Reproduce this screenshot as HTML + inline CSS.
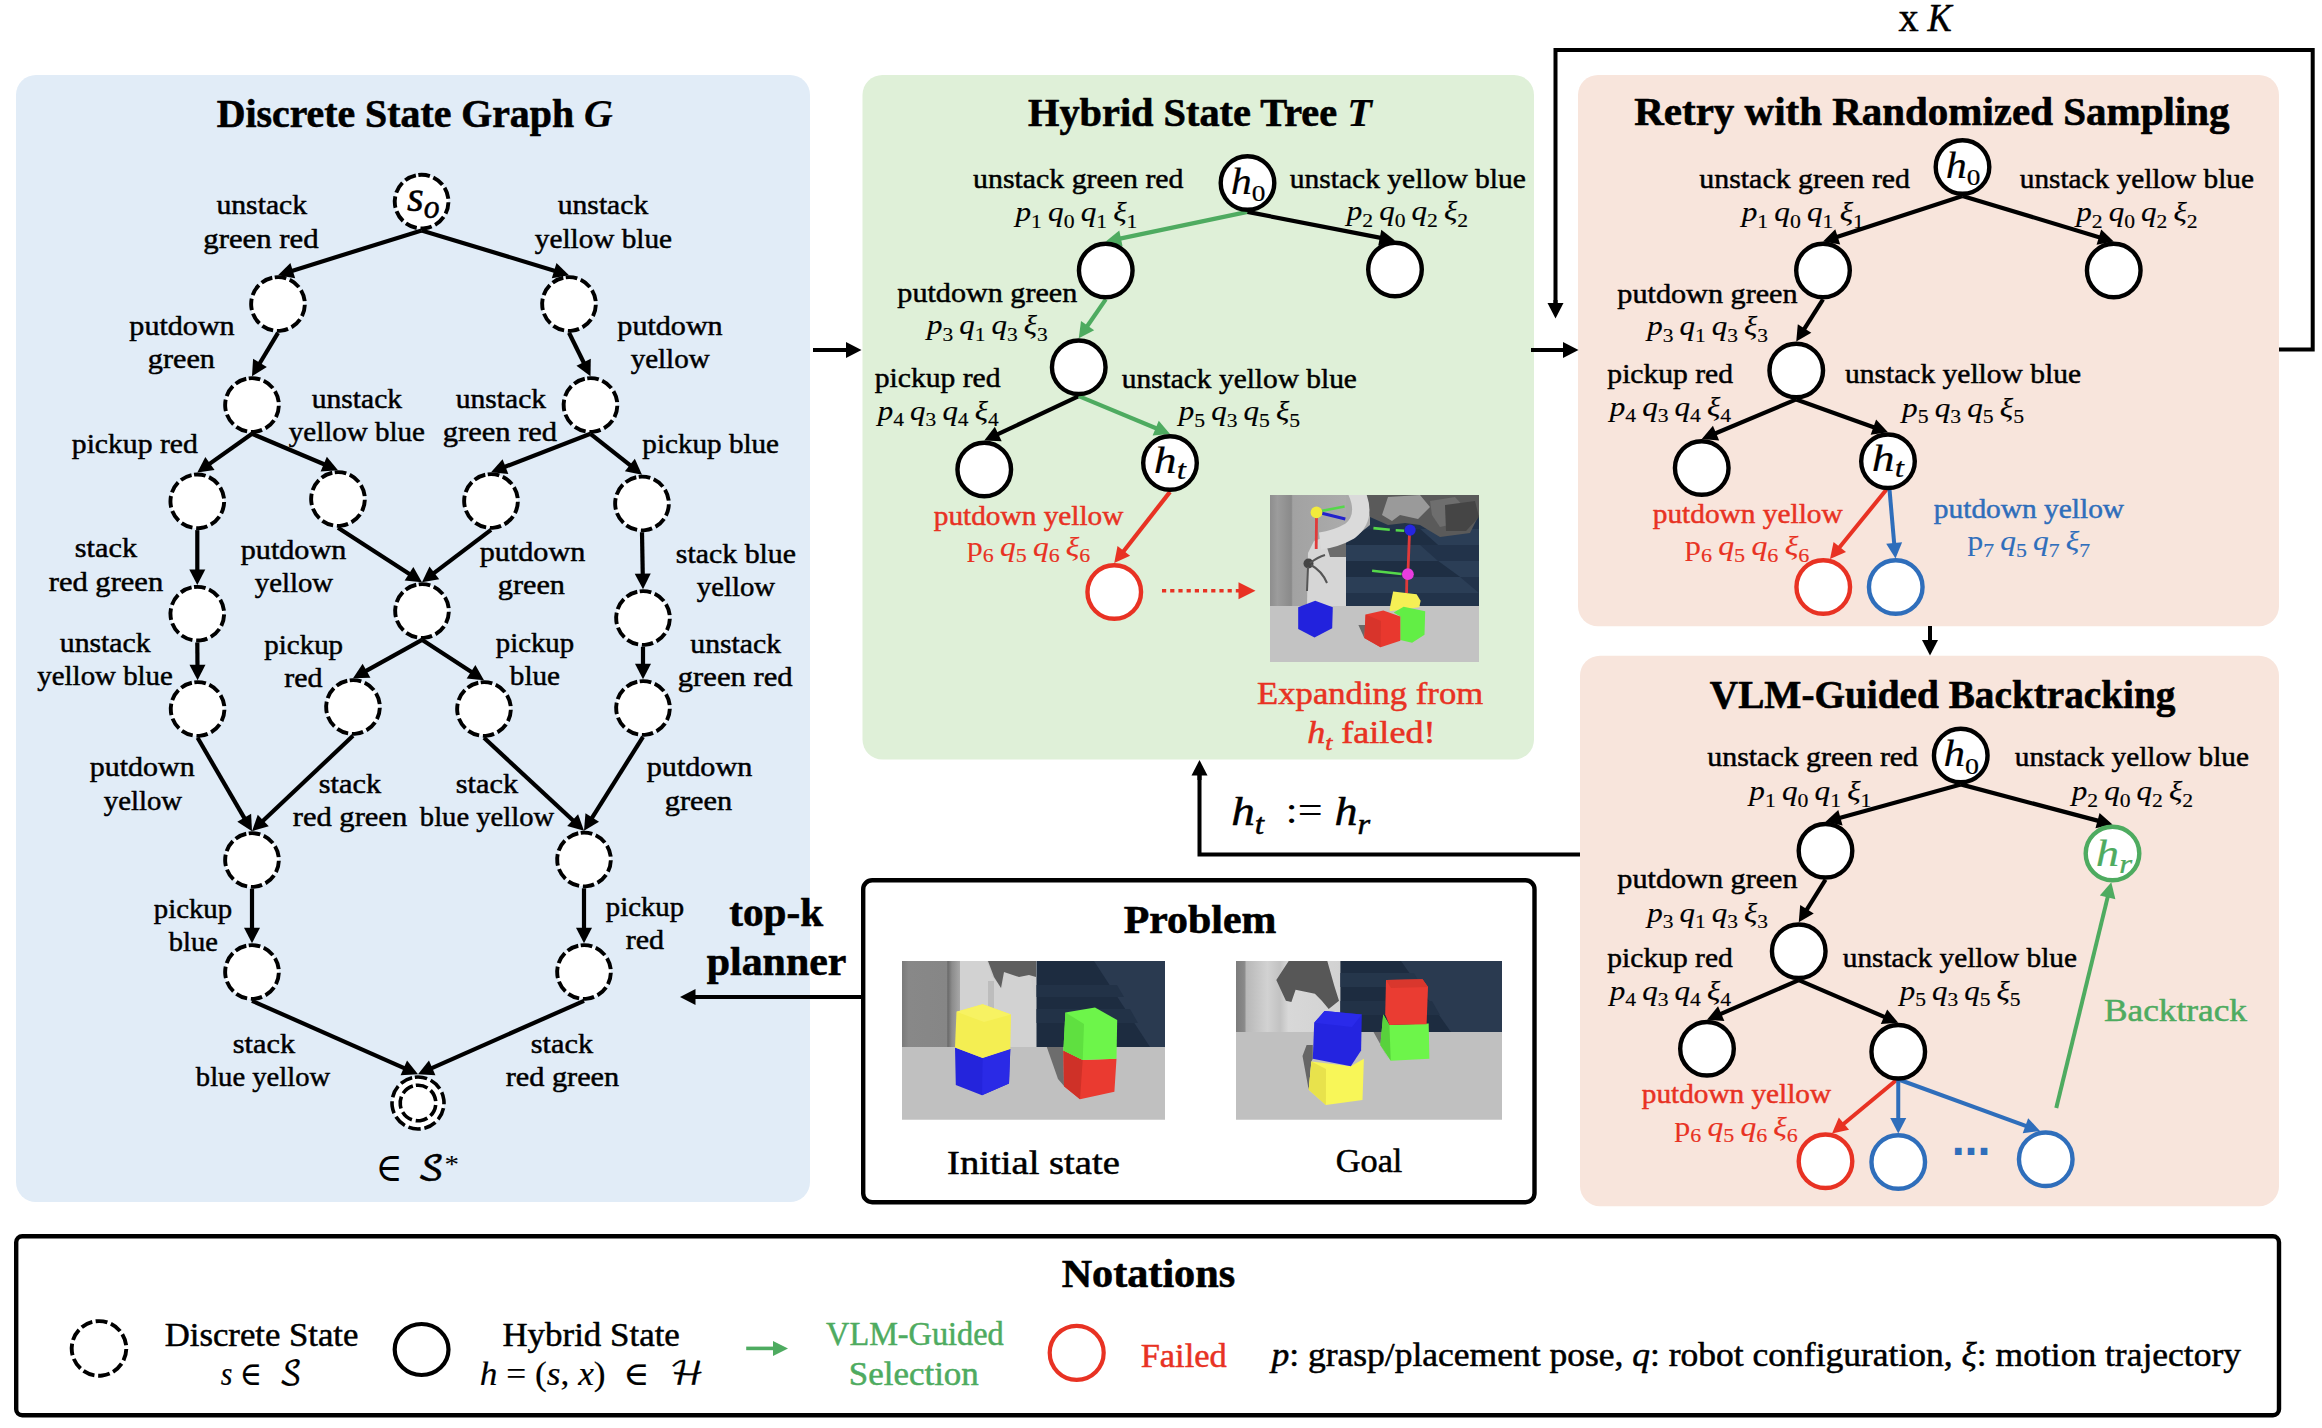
<!DOCTYPE html>
<html lang="en"><head><meta charset="utf-8"><title>Figure</title><style>
html,body{margin:0;padding:0;background:#fff;}
svg{display:block;}
text{font-family:"Liberation Serif","DejaVu Serif",serif;white-space:pre;stroke-width:0.5px;stroke-linejoin:round;}
.lb,.cap,.ex,.nm,.sym,.xk,.xki,.hh,.hb,.ss{stroke:#000;}
.lb{font-size:28px;}
.ml{font-size:28px;stroke:#000;stroke-width:0.15px;}
.hh{stroke-width:0.2px;}
.nm{stroke-width:0.2px;}
.tt{font-size:39.5px;font-weight:bold;stroke:#000;stroke-width:0.6px;}
.bi{font-style:italic;font-weight:bold;stroke-width:0.2px;}
.cap{font-size:33px;}
.ex{font-size:31px;}
.hh{font-size:37px;}
.hb{font-size:41px;}
.hbr{font-size:38px;}
.nm{font-size:33px;}
.xk{font-size:42px;}
.xki{font-size:41px;font-style:italic;}
.sym{font-size:33px;}
.sym2{font-size:40px;}
.star{font-size:26px;}
.mi{font-style:italic;}
.mr{font-style:normal;}
.mt{font-size:28px;}
.sb{font-size:19.5px;}
.sbh{font-size:24px;}
.sbi{font-size:27px;font-style:italic;}
.ss{font-size:45px;}
.sbo{font-size:33px;font-style:italic;}
.sbi2{font-size:22px;font-style:italic;}
.sbi3{font-size:29px;font-style:italic;}
.sp{font-size:22px;}
.dots{font-family:"Liberation Sans","DejaVu Sans",sans-serif;font-weight:bold;font-size:48px;stroke-width:0;}
.cal{font-family:"DejaVu Math TeX Gyre","DejaVu Sans","DejaVu Serif",serif;}
</style></head><body><svg width="2322" height="1428" viewBox="0 0 2322 1428"><defs>
<clipPath id="cpI"><rect width="263" height="158.7"/></clipPath>
<clipPath id="cpG"><rect width="266" height="158.7"/></clipPath>
<clipPath id="cpR"><rect width="209" height="167"/></clipPath>
<linearGradient id="gI" x1="0" x2="1" y1="0" y2="0">
<stop offset="0" stop-color="#7a7a7a"/><stop offset="0.05" stop-color="#888"/><stop offset="0.33" stop-color="#868686"/><stop offset="0.34" stop-color="#6a6a6a"/><stop offset="0.37" stop-color="#8c8c8c"/><stop offset="0.43" stop-color="#a8a8a8"/><stop offset="0.5" stop-color="#c6c6c6"/><stop offset="1" stop-color="#d0d0d0"/></linearGradient>
<linearGradient id="gG" x1="0" x2="1" y1="0" y2="0">
<stop offset="0" stop-color="#7c7c7c"/><stop offset="0.08" stop-color="#8a8a8a"/><stop offset="0.1" stop-color="#b8b8b8"/><stop offset="0.3" stop-color="#d2d2d2"/><stop offset="0.42" stop-color="#c2c2c2"/><stop offset="0.5" stop-color="#d8d8d8"/><stop offset="1" stop-color="#d2d2d2"/></linearGradient>
<linearGradient id="gR" x1="0" x2="1" y1="0" y2="0">
<stop offset="0" stop-color="#8e8e8e"/><stop offset="0.1" stop-color="#9c9c9c"/><stop offset="0.28" stop-color="#8a8a8a"/><stop offset="0.3" stop-color="#a2a2a2"/><stop offset="1" stop-color="#ababab"/></linearGradient>
</defs>
<rect x="16" y="75" width="794" height="1127" rx="20" fill="#e1ecf7"/>
<rect x="862.5" y="75" width="671.5" height="684.5" rx="20" fill="#dff0d8"/>
<rect x="1578" y="75" width="701" height="551.3" rx="20" fill="#f8e5dc"/>
<rect x="1580" y="655.7" width="699" height="550.5" rx="20" fill="#f8e5dc"/>
<rect x="863.2" y="880.2" width="671.3" height="322" rx="9" fill="#fff" stroke="#000" stroke-width="4.4"/>
<rect x="16.2" y="1236.3" width="2262.8" height="179" rx="6" fill="#fff" stroke="#000" stroke-width="4.4"/>
<line x1="813.00" y1="350.00" x2="847.00" y2="350.00" stroke="#000" stroke-width="4.00"/>
<polygon points="861.50,350.00 846.00,358.00 846.00,342.00" fill="#000"/>
<line x1="1531.00" y1="350.00" x2="1564.00" y2="350.00" stroke="#000" stroke-width="4.00"/>
<polygon points="1578.50,350.00 1563.00,358.00 1563.00,342.00" fill="#000"/>
<line x1="861.00" y1="997.00" x2="694.50" y2="997.00" stroke="#000" stroke-width="4.00"/>
<polygon points="680.00,997.00 695.50,989.00 695.50,1005.00" fill="#000"/>
<line x1="1930.00" y1="626.00" x2="1930.00" y2="641.00" stroke="#000" stroke-width="4.00"/>
<polygon points="1930.00,655.50 1922.00,640.00 1938.00,640.00" fill="#000"/>
<polyline points="2279,349.5 2312.7,349.5 2312.7,50 1555.5,50 1555.5,304" fill="none" stroke="#000" stroke-width="4.0" stroke-linejoin="miter"/>
<line x1="1555.50" y1="300.00" x2="1555.50" y2="304.00" stroke="#000" stroke-width="4.00"/>
<polygon points="1555.50,318.50 1547.50,303.00 1563.50,303.00" fill="#000"/>
<polyline points="1580,854.5 1199.5,854.5 1199.5,775" fill="none" stroke="#000" stroke-width="4.0" stroke-linejoin="miter"/>
<line x1="1199.50" y1="780.00" x2="1199.50" y2="774.50" stroke="#000" stroke-width="4.00"/>
<polygon points="1199.50,760.00 1207.50,775.50 1191.50,775.50" fill="#000"/>
<line x1="421.60" y1="230.40" x2="291.84" y2="270.88" stroke="#000" stroke-width="4.20"/>
<polygon points="278.00,275.20 290.41,262.95 295.18,278.22" fill="#000"/>
<line x1="421.60" y1="230.40" x2="555.13" y2="270.98" stroke="#000" stroke-width="4.20"/>
<polygon points="569.00,275.20 551.84,278.35 556.50,263.04" fill="#000"/>
<line x1="278.00" y1="332.80" x2="259.45" y2="363.76" stroke="#000" stroke-width="4.20"/>
<polygon points="252.00,376.20 253.10,358.79 266.83,367.01" fill="#000"/>
<line x1="569.00" y1="332.80" x2="584.06" y2="363.21" stroke="#000" stroke-width="4.20"/>
<polygon points="590.50,376.20 576.45,365.86 590.79,358.76" fill="#000"/>
<line x1="252.00" y1="433.80" x2="209.14" y2="464.13" stroke="#000" stroke-width="4.20"/>
<polygon points="197.30,472.50 205.33,457.02 214.57,470.08" fill="#000"/>
<line x1="252.00" y1="433.80" x2="324.65" y2="464.55" stroke="#000" stroke-width="4.20"/>
<polygon points="338.00,470.20 320.61,471.53 326.84,456.79" fill="#000"/>
<line x1="590.50" y1="433.80" x2="504.53" y2="466.98" stroke="#000" stroke-width="4.20"/>
<polygon points="491.00,472.20 502.58,459.16 508.34,474.08" fill="#000"/>
<line x1="590.50" y1="433.80" x2="630.65" y2="465.68" stroke="#000" stroke-width="4.20"/>
<polygon points="642.00,474.70 624.89,471.33 634.84,458.80" fill="#000"/>
<line x1="197.30" y1="530.10" x2="197.30" y2="570.40" stroke="#000" stroke-width="4.20"/>
<polygon points="197.30,584.90 189.30,569.40 205.30,569.40" fill="#000"/>
<line x1="338.00" y1="527.80" x2="409.83" y2="574.32" stroke="#000" stroke-width="4.20"/>
<polygon points="422.00,582.20 404.64,580.49 413.34,567.06" fill="#000"/>
<line x1="491.00" y1="529.80" x2="433.55" y2="573.43" stroke="#000" stroke-width="4.20"/>
<polygon points="422.00,582.20 429.51,566.45 439.18,579.20" fill="#000"/>
<line x1="642.00" y1="532.30" x2="642.75" y2="574.70" stroke="#000" stroke-width="4.20"/>
<polygon points="643.00,589.20 634.73,573.84 650.73,573.56" fill="#000"/>
<line x1="197.30" y1="642.50" x2="197.48" y2="665.70" stroke="#000" stroke-width="4.20"/>
<polygon points="197.60,680.20 189.48,664.76 205.48,664.64" fill="#000"/>
<line x1="422.00" y1="639.80" x2="365.67" y2="671.15" stroke="#000" stroke-width="4.20"/>
<polygon points="353.00,678.20 362.65,663.67 370.43,677.65" fill="#000"/>
<line x1="422.00" y1="639.80" x2="471.85" y2="672.28" stroke="#000" stroke-width="4.20"/>
<polygon points="484.00,680.20 466.65,678.44 475.38,665.04" fill="#000"/>
<line x1="643.00" y1="646.80" x2="643.00" y2="664.70" stroke="#000" stroke-width="4.20"/>
<polygon points="643.00,679.20 635.00,663.70 651.00,663.70" fill="#000"/>
<line x1="197.60" y1="737.80" x2="244.70" y2="818.67" stroke="#000" stroke-width="4.20"/>
<polygon points="252.00,831.20 237.29,821.83 251.11,813.78" fill="#000"/>
<line x1="353.00" y1="735.80" x2="262.54" y2="821.24" stroke="#000" stroke-width="4.20"/>
<polygon points="252.00,831.20 257.77,814.74 268.76,826.37" fill="#000"/>
<line x1="484.00" y1="737.80" x2="573.38" y2="820.83" stroke="#000" stroke-width="4.20"/>
<polygon points="584.00,830.70 567.20,826.01 578.09,814.29" fill="#000"/>
<line x1="643.00" y1="736.80" x2="591.71" y2="818.42" stroke="#000" stroke-width="4.20"/>
<polygon points="584.00,830.70 585.47,813.32 599.02,821.83" fill="#000"/>
<line x1="252.00" y1="888.80" x2="252.00" y2="928.70" stroke="#000" stroke-width="4.20"/>
<polygon points="252.00,943.20 244.00,927.70 260.00,927.70" fill="#000"/>
<line x1="584.00" y1="888.30" x2="584.00" y2="928.70" stroke="#000" stroke-width="4.20"/>
<polygon points="584.00,943.20 576.00,927.70 592.00,927.70" fill="#000"/>
<line x1="252.00" y1="1000.80" x2="404.74" y2="1068.34" stroke="#000" stroke-width="4.20"/>
<polygon points="418.00,1074.20 400.59,1075.25 407.06,1060.62" fill="#000"/>
<line x1="584.00" y1="1000.80" x2="431.26" y2="1068.34" stroke="#000" stroke-width="4.20"/>
<polygon points="418.00,1074.20 428.94,1060.62 435.41,1075.25" fill="#000"/>
<circle cx="421.60" cy="201.60" r="26.85" fill="#fff" stroke="#000" stroke-width="3.90" stroke-dasharray="11.656 3.681" transform="rotate(-97 421.60 201.60)"/>
<circle cx="278.00" cy="304.00" r="26.85" fill="#fff" stroke="#000" stroke-width="3.90" stroke-dasharray="11.656 3.681" transform="rotate(-97 278.00 304.00)"/>
<circle cx="569.00" cy="304.00" r="26.85" fill="#fff" stroke="#000" stroke-width="3.90" stroke-dasharray="11.656 3.681" transform="rotate(-97 569.00 304.00)"/>
<circle cx="252.00" cy="405.00" r="26.85" fill="#fff" stroke="#000" stroke-width="3.90" stroke-dasharray="11.656 3.681" transform="rotate(-97 252.00 405.00)"/>
<circle cx="590.50" cy="405.00" r="26.85" fill="#fff" stroke="#000" stroke-width="3.90" stroke-dasharray="11.656 3.681" transform="rotate(-97 590.50 405.00)"/>
<circle cx="197.30" cy="501.30" r="26.85" fill="#fff" stroke="#000" stroke-width="3.90" stroke-dasharray="11.656 3.681" transform="rotate(-97 197.30 501.30)"/>
<circle cx="338.00" cy="499.00" r="26.85" fill="#fff" stroke="#000" stroke-width="3.90" stroke-dasharray="11.656 3.681" transform="rotate(-97 338.00 499.00)"/>
<circle cx="491.00" cy="501.00" r="26.85" fill="#fff" stroke="#000" stroke-width="3.90" stroke-dasharray="11.656 3.681" transform="rotate(-97 491.00 501.00)"/>
<circle cx="642.00" cy="503.50" r="26.85" fill="#fff" stroke="#000" stroke-width="3.90" stroke-dasharray="11.656 3.681" transform="rotate(-97 642.00 503.50)"/>
<circle cx="197.30" cy="613.70" r="26.85" fill="#fff" stroke="#000" stroke-width="3.90" stroke-dasharray="11.656 3.681" transform="rotate(-97 197.30 613.70)"/>
<circle cx="422.00" cy="611.00" r="26.85" fill="#fff" stroke="#000" stroke-width="3.90" stroke-dasharray="11.656 3.681" transform="rotate(-97 422.00 611.00)"/>
<circle cx="643.00" cy="618.00" r="26.85" fill="#fff" stroke="#000" stroke-width="3.90" stroke-dasharray="11.656 3.681" transform="rotate(-97 643.00 618.00)"/>
<circle cx="197.60" cy="709.00" r="26.85" fill="#fff" stroke="#000" stroke-width="3.90" stroke-dasharray="11.656 3.681" transform="rotate(-97 197.60 709.00)"/>
<circle cx="353.00" cy="707.00" r="26.85" fill="#fff" stroke="#000" stroke-width="3.90" stroke-dasharray="11.656 3.681" transform="rotate(-97 353.00 707.00)"/>
<circle cx="484.00" cy="709.00" r="26.85" fill="#fff" stroke="#000" stroke-width="3.90" stroke-dasharray="11.656 3.681" transform="rotate(-97 484.00 709.00)"/>
<circle cx="643.00" cy="708.00" r="26.85" fill="#fff" stroke="#000" stroke-width="3.90" stroke-dasharray="11.656 3.681" transform="rotate(-97 643.00 708.00)"/>
<circle cx="252.00" cy="860.00" r="26.85" fill="#fff" stroke="#000" stroke-width="3.90" stroke-dasharray="11.656 3.681" transform="rotate(-97 252.00 860.00)"/>
<circle cx="584.00" cy="859.50" r="26.85" fill="#fff" stroke="#000" stroke-width="3.90" stroke-dasharray="11.656 3.681" transform="rotate(-97 584.00 859.50)"/>
<circle cx="252.00" cy="972.00" r="26.85" fill="#fff" stroke="#000" stroke-width="3.90" stroke-dasharray="11.656 3.681" transform="rotate(-97 252.00 972.00)"/>
<circle cx="584.00" cy="972.00" r="26.85" fill="#fff" stroke="#000" stroke-width="3.90" stroke-dasharray="11.656 3.681" transform="rotate(-97 584.00 972.00)"/>
<circle cx="418.00" cy="1103.00" r="26.00" fill="#fff" stroke="#000" stroke-width="3.60" stroke-dasharray="12.416 3.921" transform="rotate(-97 418.00 1103.00)"/>
<circle cx="418.00" cy="1103.00" r="17.80" fill="#fff" stroke="#000" stroke-width="3.60" stroke-dasharray="12.143 3.835" transform="rotate(-97 418.00 1103.00)"/>
<line x1="1247.50" y1="211.90" x2="1119.94" y2="238.63" stroke="#4eab60" stroke-width="4.20"/>
<polygon points="1105.75,241.60 1119.28,230.59 1122.56,246.25" fill="#4eab60"/>
<line x1="1247.50" y1="211.90" x2="1380.77" y2="237.83" stroke="#000" stroke-width="4.20"/>
<polygon points="1395.00,240.60 1378.26,245.49 1381.31,229.79" fill="#000"/>
<line x1="1105.75" y1="299.40" x2="1087.01" y2="326.43" stroke="#4eab60" stroke-width="4.20"/>
<polygon points="1078.75,338.35 1081.01,321.05 1094.16,330.17" fill="#4eab60"/>
<line x1="1078.75" y1="396.15" x2="997.37" y2="434.43" stroke="#000" stroke-width="4.20"/>
<polygon points="984.25,440.60 994.87,426.76 1001.68,441.24" fill="#000"/>
<line x1="1078.75" y1="396.15" x2="1156.61" y2="428.53" stroke="#4eab60" stroke-width="4.20"/>
<polygon points="1170.00,434.10 1152.62,435.53 1158.76,420.76" fill="#4eab60"/>
<line x1="1170.00" y1="491.90" x2="1123.19" y2="551.68" stroke="#e83223" stroke-width="4.20"/>
<polygon points="1114.25,563.10 1117.51,545.96 1130.10,555.83" fill="#e83223"/>
<circle cx="1247.50" cy="183.00" r="26.80" fill="#fff" stroke="#000" stroke-width="4.40"/>
<circle cx="1105.75" cy="270.50" r="26.80" fill="#fff" stroke="#000" stroke-width="4.40"/>
<circle cx="1395.00" cy="269.50" r="26.80" fill="#fff" stroke="#000" stroke-width="4.40"/>
<circle cx="1078.75" cy="367.25" r="26.80" fill="#fff" stroke="#000" stroke-width="4.40"/>
<circle cx="984.25" cy="469.50" r="26.80" fill="#fff" stroke="#000" stroke-width="4.40"/>
<circle cx="1170.00" cy="463.00" r="26.80" fill="#fff" stroke="#000" stroke-width="4.40"/>
<circle cx="1114.25" cy="592.00" r="26.80" fill="#fff" stroke="#e83223" stroke-width="4.40"/>
<line x1="1162.00" y1="590.80" x2="1239.50" y2="590.80" stroke="#e83223" stroke-width="3.60" stroke-dasharray="4.2 4.0"/>
<polygon points="1255.50,590.80 1238.50,599.30 1238.50,582.30" fill="#e83223"/>
<line x1="1962.50" y1="195.90" x2="1836.78" y2="237.09" stroke="#000" stroke-width="4.20"/>
<polygon points="1823.00,241.60 1835.24,229.17 1840.22,244.38" fill="#000"/>
<line x1="1962.50" y1="195.90" x2="2099.87" y2="237.41" stroke="#000" stroke-width="4.20"/>
<polygon points="2113.75,241.60 2096.60,244.77 2101.23,229.46" fill="#000"/>
<line x1="1823.00" y1="299.40" x2="1804.01" y2="329.35" stroke="#000" stroke-width="4.20"/>
<polygon points="1796.25,341.60 1797.79,324.23 1811.31,332.79" fill="#000"/>
<line x1="1796.25" y1="399.40" x2="1715.12" y2="433.48" stroke="#000" stroke-width="4.20"/>
<polygon points="1701.75,439.10 1712.94,425.72 1719.14,440.47" fill="#000"/>
<line x1="1796.25" y1="399.40" x2="1874.35" y2="427.45" stroke="#000" stroke-width="4.20"/>
<polygon points="1888.00,432.35 1870.71,434.64 1876.12,419.58" fill="#000"/>
<line x1="1886.50" y1="489.50" x2="1839.15" y2="547.75" stroke="#e83223" stroke-width="4.00"/>
<polygon points="1830.00,559.00 1833.57,541.93 1845.98,552.02" fill="#e83223"/>
<line x1="1889.50" y1="489.50" x2="1894.24" y2="544.05" stroke="#2f6ebb" stroke-width="4.00"/>
<polygon points="1895.50,558.50 1886.19,543.75 1902.13,542.37" fill="#2f6ebb"/>
<circle cx="1962.50" cy="167.00" r="26.80" fill="#fff" stroke="#000" stroke-width="4.40"/>
<circle cx="1823.00" cy="270.50" r="26.80" fill="#fff" stroke="#000" stroke-width="4.40"/>
<circle cx="2113.75" cy="270.50" r="26.80" fill="#fff" stroke="#000" stroke-width="4.40"/>
<circle cx="1796.25" cy="370.50" r="26.80" fill="#fff" stroke="#000" stroke-width="4.40"/>
<circle cx="1701.75" cy="468.00" r="26.80" fill="#fff" stroke="#000" stroke-width="4.40"/>
<circle cx="1888.00" cy="461.25" r="26.80" fill="#fff" stroke="#000" stroke-width="4.40"/>
<circle cx="1823.25" cy="587.00" r="26.80" fill="#fff" stroke="#e83223" stroke-width="4.40"/>
<circle cx="1895.75" cy="587.00" r="26.80" fill="#fff" stroke="#2f6ebb" stroke-width="4.40"/>
<line x1="1960.75" y1="784.40" x2="1839.47" y2="817.98" stroke="#000" stroke-width="4.20"/>
<polygon points="1825.50,821.85 1838.30,810.00 1842.57,825.42" fill="#000"/>
<line x1="1960.75" y1="784.40" x2="2098.48" y2="820.89" stroke="#000" stroke-width="4.20"/>
<polygon points="2112.50,824.60 2095.47,828.36 2099.57,812.90" fill="#000"/>
<line x1="1825.50" y1="879.65" x2="1806.45" y2="910.06" stroke="#000" stroke-width="4.20"/>
<polygon points="1798.75,922.35 1800.20,904.97 1813.76,913.46" fill="#000"/>
<line x1="1798.75" y1="980.15" x2="1720.31" y2="1014.09" stroke="#000" stroke-width="4.20"/>
<polygon points="1707.00,1019.85 1718.05,1006.35 1724.40,1021.04" fill="#000"/>
<line x1="1798.75" y1="980.15" x2="1884.93" y2="1017.13" stroke="#000" stroke-width="4.20"/>
<polygon points="1898.25,1022.85 1880.85,1024.09 1887.16,1009.39" fill="#000"/>
<line x1="1896.50" y1="1080.00" x2="1843.16" y2="1124.24" stroke="#e83223" stroke-width="4.00"/>
<polygon points="1832.00,1133.50 1838.82,1117.45 1849.04,1129.76" fill="#e83223"/>
<line x1="1898.25" y1="1080.00" x2="1898.25" y2="1119.00" stroke="#2f6ebb" stroke-width="4.00"/>
<polygon points="1898.25,1133.50 1890.25,1118.00 1906.25,1118.00" fill="#2f6ebb"/>
<line x1="1900.00" y1="1080.00" x2="2026.38" y2="1126.04" stroke="#2f6ebb" stroke-width="4.00"/>
<polygon points="2040.00,1131.00 2022.70,1133.21 2028.17,1118.18" fill="#2f6ebb"/>
<line x1="2056.25" y1="1108.00" x2="2107.86" y2="896.39" stroke="#4eab60" stroke-width="4.00"/>
<polygon points="2111.30,882.30 2115.40,899.25 2099.85,895.46" fill="#4eab60"/>
<circle cx="1960.75" cy="755.50" r="26.80" fill="#fff" stroke="#000" stroke-width="4.40"/>
<circle cx="1825.50" cy="850.75" r="26.80" fill="#fff" stroke="#000" stroke-width="4.40"/>
<circle cx="2112.50" cy="853.50" r="26.80" fill="#fff" stroke="#4eab60" stroke-width="4.40"/>
<circle cx="1798.75" cy="951.25" r="26.80" fill="#fff" stroke="#000" stroke-width="4.40"/>
<circle cx="1707.00" cy="1048.75" r="26.80" fill="#fff" stroke="#000" stroke-width="4.40"/>
<circle cx="1898.25" cy="1051.75" r="26.80" fill="#fff" stroke="#000" stroke-width="4.40"/>
<circle cx="1825.50" cy="1161.25" r="26.80" fill="#fff" stroke="#e83223" stroke-width="4.40"/>
<circle cx="1898.25" cy="1162.00" r="26.80" fill="#fff" stroke="#2f6ebb" stroke-width="4.40"/>
<circle cx="2045.75" cy="1159.25" r="26.80" fill="#fff" stroke="#2f6ebb" stroke-width="4.40"/>
<circle cx="99.00" cy="1348.40" r="27.30" fill="#fff" stroke="#000" stroke-width="3.90" stroke-dasharray="11.851 3.742" transform="rotate(-97 99.00 1348.40)"/>
<ellipse cx="421.6" cy="1349.5" rx="26.9" ry="25.5" fill="#fff" stroke="#000" stroke-width="4.2"/>
<line x1="746.20" y1="1348.40" x2="774.00" y2="1348.40" stroke="#4eab60" stroke-width="3.60"/>
<polygon points="788.00,1348.40 773.00,1355.90 773.00,1340.90" fill="#4eab60"/>
<circle cx="1076.70" cy="1352.80" r="27.00" fill="#fff" stroke="#e83223" stroke-width="4.20"/>
<g transform="translate(1270,495)" clip-path="url(#cpR)"><rect width="209" height="167" fill="#c3c3c3"/><rect width="76" height="111" fill="url(#gR)"/><rect x="76" y="0" width="133" height="111" fill="#22334a"/><polygon points="76.0,50.0 150.0,50.0 168.0,66.0 76.0,66.0" fill="#2b3e56"/><polygon points="150.0,34.0 209.0,34.0 209.0,50.0 168.0,50.0" fill="#2b3e56"/><polygon points="168.0,66.0 209.0,66.0 209.0,82.0 190.0,82.0" fill="#2b3e56"/><polygon points="76.0,82.0 190.0,82.0 209.0,98.0 76.0,98.0" fill="#2b3e56"/><polygon points="76.0,34.0 150.0,34.0 168.0,50.0 76.0,50.0" fill="#1e2e43"/><polygon points="76.0,66.0 168.0,66.0 190.0,82.0 76.0,82.0" fill="#1e2e43"/><polygon points="76.0,0.0 100.0,0.0 100.0,30.0 90.0,38.0 76.0,42.0" fill="#a9a9a9"/><polygon points="95.0,0.0 209.0,0.0 209.0,20.0 200.0,38.0 170.0,42.0 150.0,30.0 135.0,28.0 118.0,30.0 100.0,22.0" fill="#5a5a5a"/><polygon points="118.0,2.0 150.0,0.0 160.0,12.0 148.0,24.0 130.0,20.0 122.0,26.0 112.0,20.0" fill="#9a9a9a"/><polygon points="160.0,6.0 185.0,2.0 196.0,14.0 188.0,28.0 170.0,32.0 162.0,20.0" fill="#6e6e6e"/><polygon points="175.0,10.0 205.0,6.0 209.0,22.0 196.0,36.0 176.0,36.0" fill="#454545"/><polygon points="37.0,111.0 38.0,58.0 44.0,46.0 60.0,40.0 76.0,40.0 76.0,111.0" fill="#d6d6d6"/><polygon points="55.0,46.0 76.0,42.0 76.0,62.0 60.0,62.0" fill="#6c6c6c"/><path d="M86,-4 Q98,22 80,36 Q66,44 50,46" fill="none" stroke="#dadada" stroke-width="17"/><circle cx="38.5" cy="68.5" r="5" fill="#444"/><path d="M40,68 Q48,62 55,60 M41,70 Q52,76 57,88 M38,72 L37,96" fill="none" stroke="#555" stroke-width="2"/><line x1="46.5" y1="23" x2="46.2" y2="54" stroke="#e03a3a" stroke-width="2.8"/><line x1="51" y1="16" x2="74.6" y2="11.5" stroke="#55d84a" stroke-width="2.6"/><line x1="51" y1="18" x2="75.3" y2="24" stroke="#2222cc" stroke-width="3"/><line x1="103.4" y1="33.1" x2="119.8" y2="34.7" stroke="#55d84a" stroke-width="2.6"/><line x1="125.7" y1="35.3" x2="134.2" y2="35.7" stroke="#55d84a" stroke-width="2.6"/><line x1="139.4" y1="40" x2="138.1" y2="74" stroke="#e03a3a" stroke-width="2.8"/><line x1="102.1" y1="75.7" x2="131.6" y2="79" stroke="#55d84a" stroke-width="2.6"/><line x1="136.8" y1="84" x2="136.6" y2="98" stroke="#e03a3a" stroke-width="2.8"/><circle cx="46.5" cy="17.4" r="5.9" fill="#f2ea3c"/><circle cx="140.1" cy="35.1" r="5.6" fill="#2626e0"/><circle cx="137.9" cy="79.2" r="5.9" fill="#e83ce0"/><polygon points="88.4,130.0 95.6,130.0 94.3,143.0" fill="#6a6a6a"/><polygon points="123.1,96.6 146.6,99.2 150.6,105.8 149.3,112.3 119.8,116.3 119.8,113.0" fill="#f5ef55"/><polygon points="28.2,112.3 45.2,105.8 62.8,112.3 62.2,133.3 44.5,142.5 28.2,133.9" fill="#2222dd"/><polygon points="123.7,117.6 133.6,111.7 155.2,116.3 154.5,139.8 142.1,147.7 130.3,145.1 130.3,121.5" fill="#62ee45"/><polygon points="95.6,119.5 113.3,115.6 130.3,121.5 130.3,145.7 110.6,152.3 94.3,143.1" fill="#e8382e"/><polygon points="95.6,119.5 111.0,126.0 110.6,152.3 94.3,143.1" fill="#d8342b"/></g><g transform="translate(902,961)" clip-path="url(#cpI)"><rect width="263" height="159" fill="#c0c0c0"/><rect width="135" height="86" fill="url(#gI)"/><polygon points="58.0,0.0 85.0,0.0 90.0,15.0 100.0,28.0 102.0,12.0 128.0,14.0 134.0,40.0 134.0,86.0 58.0,86.0" fill="#d2d2d2"/><polygon points="86.0,0.0 134.0,0.0 134.0,16.0 127.0,14.0 117.0,16.0 102.0,11.0 99.0,27.0 92.0,16.0" fill="#5e5e5e"/><rect x="86" y="20" width="6" height="66" fill="#bdbdbd"/><rect x="134.5" y="0" width="129" height="86" fill="#1d2c40"/><polygon points="192.0,0.0 263.0,0.0 263.0,86.0 248.0,86.0" fill="#2a3a50"/><polygon points="134.5,24.0 215.0,24.0 222.0,36.0 134.5,36.0" fill="#223247"/><polygon points="134.5,48.0 228.0,48.0 236.0,62.0 134.5,62.0" fill="#223247"/><polygon points="144.8,86.0 161.4,86.0 162.0,125.0 156.0,118.0" fill="#6d6d6d"/><polygon points="53.0,86.6 80.7,97.0 108.3,88.0 107.0,122.5 80.0,134.2 53.8,123.9" fill="#2424dc"/><polygon points="80.7,97.0 108.3,88.0 107.0,122.5 80.0,134.2" fill="#2a2ae6"/><polygon points="54.5,50.8 80.7,43.2 109.0,53.5 108.3,88.0 80.7,97.0 53.0,86.6" fill="#f4ee52"/><polygon points="54.5,50.8 80.7,43.2 109.0,53.5 82.0,61.0" fill="#f7f262"/><polygon points="161.4,89.4 180.7,99.0 214.5,97.7 212.4,130.8 178.0,138.3 162.0,125.2" fill="#ea3a30"/><polygon points="161.4,89.4 180.7,99.0 178.0,138.3 162.0,125.2" fill="#cf3128"/><polygon points="163.4,51.4 193.0,46.6 215.2,59.0 214.5,97.7 180.7,99.0 161.4,89.4" fill="#6df54a"/><polygon points="163.4,51.4 182.0,63.0 180.7,99.0 161.4,89.4" fill="#5fe040"/></g><g transform="translate(1236,961)" clip-path="url(#cpG)"><rect width="266" height="159" fill="#c0c0c0"/><rect width="105" height="71" fill="url(#gG)"/><rect x="104.4" y="0" width="162" height="71" fill="#1d2c40"/><polygon points="165.0,0.0 266.0,0.0 266.0,71.0 215.0,71.0" fill="#2a3a50"/><polygon points="104.4,12.0 178.0,12.0 186.0,26.0 104.4,26.0" fill="#25364b"/><polygon points="104.4,40.0 196.0,40.0 204.0,54.0 104.4,54.0" fill="#223247"/><polygon points="52.7,0.0 91.3,0.0 98.2,24.6 103.0,39.7 92.7,48.0 85.8,39.7 78.9,32.8 59.6,28.7 55.4,41.1 49.9,39.7 40.3,19.0" fill="#575757"/><polygon points="137.5,71.0 147.2,71.0 144.4,84.0 153.0,99.0" fill="#707070"/><polygon points="70.6,83.9 76.8,83.9 76.8,97.7 75.4,100.4 72.7,128.7 66.5,94.9" fill="#666"/><polygon points="147.2,53.5 153.4,63.9 192.7,62.5 193.4,97.7 154.8,99.7 144.4,83.9" fill="#6df54a"/><polygon points="147.2,53.5 153.4,63.9 154.8,99.7 144.4,83.9" fill="#58d23c"/><polygon points="150.0,19.0 186.5,18.3 192.0,25.9 190.6,63.2 153.4,63.9 149.2,53.5" fill="#ea3c32"/><polygon points="150.0,19.0 186.5,18.3 192.0,25.9 155.0,27.0" fill="#d9372d"/><polygon points="75.4,100.4 114.8,105.2 127.9,97.7 126.5,139.0 89.9,143.9 72.7,128.7" fill="#f8f658"/><polygon points="75.4,100.4 90.0,108.0 89.9,143.9 72.7,128.7" fill="#e8e24c"/><polygon points="88.6,50.0 125.8,53.5 125.1,89.4 114.8,105.2 76.8,97.7 78.2,61.8" fill="#2424e0"/><polygon points="88.6,50.0 125.8,53.5 116.0,66.0 78.2,61.8" fill="#2a2aea"/></g>
<text class="tt" transform="translate(216.70,126.60) scale(1.0077,1)">Discrete State Graph <tspan class="bi">G</tspan></text>
<text class="lb" transform="translate(216.40,213.60) scale(1.0606,1)">unstack</text>
<text class="lb" transform="translate(203.32,247.50) scale(1.0991,1)">green red</text>
<text class="lb" transform="translate(557.76,214.00) scale(1.0578,1)">unstack</text>
<text class="lb" transform="translate(534.79,247.70) scale(1.0457,1)">yellow blue</text>
<text class="lb" transform="translate(129.33,334.70) scale(1.0752,1)">putdown</text>
<text class="lb" transform="translate(147.79,368.20) scale(1.0811,1)">green</text>
<text class="lb" transform="translate(617.33,335.00) scale(1.0752,1)">putdown</text>
<text class="lb" transform="translate(630.64,368.20) scale(1.0379,1)">yellow</text>
<text class="lb" transform="translate(311.76,407.60) scale(1.0563,1)">unstack</text>
<text class="lb" transform="translate(288.75,441.20) scale(1.0372,1)">yellow blue</text>
<text class="lb" transform="translate(455.76,407.60) scale(1.0563,1)">unstack</text>
<text class="lb" transform="translate(442.80,441.20) scale(1.0900,1)">green red</text>
<text class="lb" transform="translate(71.81,452.60) scale(1.0588,1)">pickup red</text>
<text class="lb" transform="translate(642.34,452.60) scale(1.0406,1)">pickup blue</text>
<text class="lb" transform="translate(74.80,557.00) scale(1.0828,1)">stack</text>
<text class="lb" transform="translate(48.71,590.50) scale(1.0917,1)">red green</text>
<text class="lb" transform="translate(240.80,559.00) scale(1.0760,1)">putdown</text>
<text class="lb" transform="translate(254.74,592.20) scale(1.0285,1)">yellow</text>
<text class="lb" transform="translate(479.80,561.00) scale(1.0760,1)">putdown</text>
<text class="lb" transform="translate(497.79,594.00) scale(1.0811,1)">green</text>
<text class="lb" transform="translate(675.82,562.60) scale(1.0666,1)">stack blue</text>
<text class="lb" transform="translate(696.74,596.00) scale(1.0285,1)">yellow</text>
<text class="lb" transform="translate(59.76,652.00) scale(1.0632,1)">unstack</text>
<text class="lb" transform="translate(37.34,684.70) scale(1.0312,1)">yellow blue</text>
<text class="lb" transform="translate(264.33,654.00) scale(1.0336,1)">pickup</text>
<text class="lb" transform="translate(284.25,686.50) scale(1.0721,1)">red</text>
<text class="lb" transform="translate(495.81,652.00) scale(1.0273,1)">pickup</text>
<text class="lb" transform="translate(509.87,685.00) scale(1.0416,1)">blue</text>
<text class="lb" transform="translate(690.29,652.60) scale(1.0619,1)">unstack</text>
<text class="lb" transform="translate(677.80,685.70) scale(1.0943,1)">green red</text>
<text class="lb" transform="translate(89.80,776.20) scale(1.0701,1)">putdown</text>
<text class="lb" transform="translate(103.74,809.60) scale(1.0285,1)">yellow</text>
<text class="lb" transform="translate(318.80,792.60) scale(1.0828,1)">stack</text>
<text class="lb" transform="translate(292.71,825.70) scale(1.0917,1)">red green</text>
<text class="lb" transform="translate(455.80,792.60) scale(1.0828,1)">stack</text>
<text class="lb" transform="translate(419.87,825.70) scale(1.0216,1)">blue yellow</text>
<text class="lb" transform="translate(646.80,776.20) scale(1.0760,1)">putdown</text>
<text class="lb" transform="translate(664.80,809.60) scale(1.0850,1)">green</text>
<text class="lb" transform="translate(153.81,917.60) scale(1.0273,1)">pickup</text>
<text class="lb" transform="translate(168.87,950.80) scale(1.0157,1)">blue</text>
<text class="lb" transform="translate(605.81,916.20) scale(1.0273,1)">pickup</text>
<text class="lb" transform="translate(625.72,949.30) scale(1.0750,1)">red</text>
<text class="lb" transform="translate(232.80,1052.60) scale(1.0828,1)">stack</text>
<text class="lb" transform="translate(195.87,1085.60) scale(1.0216,1)">blue yellow</text>
<text class="lb" transform="translate(530.80,1052.60) scale(1.0828,1)">stack</text>
<text class="lb" transform="translate(505.71,1085.60) scale(1.0824,1)">red green</text>
<text class="ss" transform="translate(406.93,210.50) scale(0.9588,1)"><tspan class="mi">s</tspan><tspan class="sbo" dy="7.5">o</tspan></text>
<text class="sym2" transform="translate(375.64,1181.00) scale(0.9108,1)">∈</text>
<text class="sym" transform="translate(417.23,1180.00) scale(1.0652,1)"><tspan class="cal">𝒮</tspan></text>
<text class="star" transform="translate(444.50,1173.00) scale(1.1147,1)">*</text>
<text class="tt" transform="translate(729.27,926.00) scale(1.0419,1)">top-k</text>
<text class="tt" transform="translate(706.80,974.50) scale(1.0596,1)">planner</text>
<text class="hh" transform="translate(1230.67,193.70) scale(1.1393,1)"><tspan class="mi">h</tspan><tspan class="sbh" dy="7.7">0</tspan></text>
<text class="hh" transform="translate(1153.86,472.60) scale(1.2340,1)"><tspan class="mi">h</tspan><tspan class="sbi" dy="6.5">t</tspan></text>
<text class="tt" transform="translate(1028.04,125.70) scale(1.0213,1)">Hybrid State Tree <tspan class="bi">T</tspan></text>
<text class="lb" transform="translate(973.10,188.10) scale(1.0659,1)">unstack green red</text>
<text class="ml" transform="translate(1015.47,221.00) scale(1.1145,1)"><tspan class="mi">p</tspan><tspan class="sb" dy="6.5">1</tspan><tspan dy="-6.5" class="z">​</tspan><tspan class="sp"> </tspan><tspan class="mi">q</tspan><tspan class="sb" dy="6.5">0</tspan><tspan dy="-6.5" class="z">​</tspan><tspan class="sp"> </tspan><tspan class="mi">q</tspan><tspan class="sb" dy="6.5">1</tspan><tspan dy="-6.5" class="z">​</tspan><tspan class="sp"> </tspan><tspan class="mi">ξ</tspan><tspan class="sb" dy="6.5">1</tspan><tspan dy="-6.5" class="z">​</tspan></text>
<text class="lb" transform="translate(1289.76,187.60) scale(1.0554,1)">unstack yellow blue</text>
<text class="ml" transform="translate(1346.70,220.00) scale(1.1093,1)"><tspan class="mi">p</tspan><tspan class="sb" dy="6.5">2</tspan><tspan dy="-6.5" class="z">​</tspan><tspan class="sp"> </tspan><tspan class="mi">q</tspan><tspan class="sb" dy="6.5">0</tspan><tspan dy="-6.5" class="z">​</tspan><tspan class="sp"> </tspan><tspan class="mi">q</tspan><tspan class="sb" dy="6.5">2</tspan><tspan dy="-6.5" class="z">​</tspan><tspan class="sp"> </tspan><tspan class="mi">ξ</tspan><tspan class="sb" dy="6.5">2</tspan><tspan dy="-6.5" class="z">​</tspan></text>
<text class="lb" transform="translate(897.33,302.00) scale(1.0765,1)">putdown green</text>
<text class="ml" transform="translate(927.06,334.00) scale(1.1030,1)"><tspan class="mi">p</tspan><tspan class="sb" dy="6.5">3</tspan><tspan dy="-6.5" class="z">​</tspan><tspan class="sp"> </tspan><tspan class="mi">q</tspan><tspan class="sb" dy="6.5">1</tspan><tspan dy="-6.5" class="z">​</tspan><tspan class="sp"> </tspan><tspan class="mi">q</tspan><tspan class="sb" dy="6.5">3</tspan><tspan dy="-6.5" class="z">​</tspan><tspan class="sp"> </tspan><tspan class="mi">ξ</tspan><tspan class="sb" dy="6.5">3</tspan><tspan dy="-6.5" class="z">​</tspan></text>
<text class="lb" transform="translate(874.81,387.00) scale(1.0572,1)">pickup red</text>
<text class="ml" transform="translate(877.85,419.50) scale(1.1036,1)"><tspan class="mi">p</tspan><tspan class="sb" dy="6.5">4</tspan><tspan dy="-6.5" class="z">​</tspan><tspan class="sp"> </tspan><tspan class="mi">q</tspan><tspan class="sb" dy="6.5">3</tspan><tspan dy="-6.5" class="z">​</tspan><tspan class="sp"> </tspan><tspan class="mi">q</tspan><tspan class="sb" dy="6.5">4</tspan><tspan dy="-6.5" class="z">​</tspan><tspan class="sp"> </tspan><tspan class="mi">ξ</tspan><tspan class="sb" dy="6.5">4</tspan><tspan dy="-6.5" class="z">​</tspan></text>
<text class="lb" transform="translate(1121.76,387.50) scale(1.0506,1)">unstack yellow blue</text>
<text class="ml" transform="translate(1178.70,420.00) scale(1.1081,1)"><tspan class="mi">p</tspan><tspan class="sb" dy="6.5">5</tspan><tspan dy="-6.5" class="z">​</tspan><tspan class="sp"> </tspan><tspan class="mi">q</tspan><tspan class="sb" dy="6.5">3</tspan><tspan dy="-6.5" class="z">​</tspan><tspan class="sp"> </tspan><tspan class="mi">q</tspan><tspan class="sb" dy="6.5">5</tspan><tspan dy="-6.5" class="z">​</tspan><tspan class="sp"> </tspan><tspan class="mi">ξ</tspan><tspan class="sb" dy="6.5">5</tspan><tspan dy="-6.5" class="z">​</tspan></text>
<text class="lb" style="fill:#e83223;stroke:#e83223" transform="translate(933.75,524.50) scale(1.0471,1)">putdown yellow</text>
<text class="ml" style="fill:#e83223;stroke:#e83223" transform="translate(967.11,555.50) scale(1.1246,1)"><tspan class="mr">p</tspan><tspan class="sb" dy="6.5">6</tspan><tspan dy="-6.5" class="z">​</tspan><tspan class="sp"> </tspan><tspan class="mi">q</tspan><tspan class="sb" dy="6.5">5</tspan><tspan dy="-6.5" class="z">​</tspan><tspan class="sp"> </tspan><tspan class="mi">q</tspan><tspan class="sb" dy="6.5">6</tspan><tspan dy="-6.5" class="z">​</tspan><tspan class="sp"> </tspan><tspan class="mi">ξ</tspan><tspan class="sb" dy="6.5">6</tspan><tspan dy="-6.5" class="z">​</tspan></text>
<text class="ex" style="fill:#e83223;stroke:#e83223" transform="translate(1257.12,703.75) scale(1.1177,1)">Expanding from</text>
<text class="ex" style="fill:#e83223;stroke:#e83223" transform="translate(1307.14,743.00) scale(1.1644,1)"><tspan class="mi">h</tspan><tspan class="sbi2" dy="7">t</tspan><tspan dy="-7"> failed!</tspan></text>
<text class="hb" transform="translate(1231.14,825.00) scale(1.1555,1)"><tspan class="mi">h</tspan><tspan class="sbi3" dy="9">t</tspan></text>
<text class="hbr" transform="translate(1285.41,823.00) scale(1.1620,1)">:=</text>
<text class="hb" transform="translate(1334.62,825.00) scale(1.1212,1)"><tspan class="mi">h</tspan><tspan class="sbi3" dy="9">r</tspan></text>
<text class="tt" transform="translate(1123.69,932.50) scale(1.0592,1)">Problem</text>
<text class="cap" transform="translate(947.12,1173.80) scale(1.1710,1)">Initial state</text>
<text class="cap" transform="translate(1335.77,1171.80) scale(1.0384,1)">Goal</text>
<text class="hh" transform="translate(1945.67,177.70) scale(1.1393,1)"><tspan class="mi">h</tspan><tspan class="sbh" dy="7.7">0</tspan></text>
<text class="hh" transform="translate(1871.86,470.85) scale(1.2340,1)"><tspan class="mi">h</tspan><tspan class="sbi" dy="6.5">t</tspan></text>
<text class="xk" transform="translate(1898.56,31.00) scale(0.9573,1)">x</text>
<text class="xki" transform="translate(1927.62,31.00) scale(0.8870,1)">K</text>
<text class="tt" transform="translate(1634.25,125.00) scale(1.0375,1)">Retry with Randomized Sampling</text>
<text class="lb" transform="translate(1699.29,187.60) scale(1.0679,1)">unstack green red</text>
<text class="ml" transform="translate(1741.72,221.00) scale(1.1165,1)"><tspan class="mi">p</tspan><tspan class="sb" dy="6.5">1</tspan><tspan dy="-6.5" class="z">​</tspan><tspan class="sp"> </tspan><tspan class="mi">q</tspan><tspan class="sb" dy="6.5">0</tspan><tspan dy="-6.5" class="z">​</tspan><tspan class="sp"> </tspan><tspan class="mi">q</tspan><tspan class="sb" dy="6.5">1</tspan><tspan dy="-6.5" class="z">​</tspan><tspan class="sp"> </tspan><tspan class="mi">ξ</tspan><tspan class="sb" dy="6.5">1</tspan><tspan dy="-6.5" class="z">​</tspan></text>
<text class="lb" transform="translate(2019.76,187.60) scale(1.0463,1)">unstack yellow blue</text>
<text class="ml" transform="translate(2076.25,221.00) scale(1.1078,1)"><tspan class="mi">p</tspan><tspan class="sb" dy="6.5">2</tspan><tspan dy="-6.5" class="z">​</tspan><tspan class="sp"> </tspan><tspan class="mi">q</tspan><tspan class="sb" dy="6.5">0</tspan><tspan dy="-6.5" class="z">​</tspan><tspan class="sp"> </tspan><tspan class="mi">q</tspan><tspan class="sb" dy="6.5">2</tspan><tspan dy="-6.5" class="z">​</tspan><tspan class="sp"> </tspan><tspan class="mi">ξ</tspan><tspan class="sb" dy="6.5">2</tspan><tspan dy="-6.5" class="z">​</tspan></text>
<text class="lb" transform="translate(1617.33,302.50) scale(1.0790,1)">putdown green</text>
<text class="ml" transform="translate(1647.25,335.00) scale(1.1028,1)"><tspan class="mi">p</tspan><tspan class="sb" dy="6.5">3</tspan><tspan dy="-6.5" class="z">​</tspan><tspan class="sp"> </tspan><tspan class="mi">q</tspan><tspan class="sb" dy="6.5">1</tspan><tspan dy="-6.5" class="z">​</tspan><tspan class="sp"> </tspan><tspan class="mi">q</tspan><tspan class="sb" dy="6.5">3</tspan><tspan dy="-6.5" class="z">​</tspan><tspan class="sp"> </tspan><tspan class="mi">ξ</tspan><tspan class="sb" dy="6.5">3</tspan><tspan dy="-6.5" class="z">​</tspan></text>
<text class="lb" transform="translate(1607.34,382.60) scale(1.0573,1)">pickup red</text>
<text class="ml" transform="translate(1609.69,415.50) scale(1.1095,1)"><tspan class="mi">p</tspan><tspan class="sb" dy="6.5">4</tspan><tspan dy="-6.5" class="z">​</tspan><tspan class="sp"> </tspan><tspan class="mi">q</tspan><tspan class="sb" dy="6.5">3</tspan><tspan dy="-6.5" class="z">​</tspan><tspan class="sp"> </tspan><tspan class="mi">q</tspan><tspan class="sb" dy="6.5">4</tspan><tspan dy="-6.5" class="z">​</tspan><tspan class="sp"> </tspan><tspan class="mi">ξ</tspan><tspan class="sb" dy="6.5">4</tspan><tspan dy="-6.5" class="z">​</tspan></text>
<text class="lb" transform="translate(1845.11,383.00) scale(1.0536,1)">unstack yellow blue</text>
<text class="ml" transform="translate(1902.07,416.50) scale(1.1138,1)"><tspan class="mi">p</tspan><tspan class="sb" dy="6.5">5</tspan><tspan dy="-6.5" class="z">​</tspan><tspan class="sp"> </tspan><tspan class="mi">q</tspan><tspan class="sb" dy="6.5">3</tspan><tspan dy="-6.5" class="z">​</tspan><tspan class="sp"> </tspan><tspan class="mi">q</tspan><tspan class="sb" dy="6.5">5</tspan><tspan dy="-6.5" class="z">​</tspan><tspan class="sp"> </tspan><tspan class="mi">ξ</tspan><tspan class="sb" dy="6.5">5</tspan><tspan dy="-6.5" class="z">​</tspan></text>
<text class="lb" style="fill:#e83223;stroke:#e83223" transform="translate(1652.75,522.50) scale(1.0487,1)">putdown yellow</text>
<text class="ml" style="fill:#e83223;stroke:#e83223" transform="translate(1685.01,555.00) scale(1.1355,1)"><tspan class="mr">p</tspan><tspan class="sb" dy="6.5">6</tspan><tspan dy="-6.5" class="z">​</tspan><tspan class="sp"> </tspan><tspan class="mi">q</tspan><tspan class="sb" dy="6.5">5</tspan><tspan dy="-6.5" class="z">​</tspan><tspan class="sp"> </tspan><tspan class="mi">q</tspan><tspan class="sb" dy="6.5">6</tspan><tspan dy="-6.5" class="z">​</tspan><tspan class="sp"> </tspan><tspan class="mi">ξ</tspan><tspan class="sb" dy="6.5">6</tspan><tspan dy="-6.5" class="z">​</tspan></text>
<text class="lb" style="fill:#2f6ebb;stroke:#2f6ebb" transform="translate(1933.81,517.50) scale(1.0503,1)">putdown yellow</text>
<text class="ml" style="fill:#2f6ebb;stroke:#2f6ebb" transform="translate(1967.56,550.00) scale(1.1206,1)"><tspan class="mr">p</tspan><tspan class="sb" dy="6.5">7</tspan><tspan dy="-6.5" class="z">​</tspan><tspan class="sp"> </tspan><tspan class="mi">q</tspan><tspan class="sb" dy="6.5">5</tspan><tspan dy="-6.5" class="z">​</tspan><tspan class="sp"> </tspan><tspan class="mi">q</tspan><tspan class="sb" dy="6.5">7</tspan><tspan dy="-6.5" class="z">​</tspan><tspan class="sp"> </tspan><tspan class="mi">ξ</tspan><tspan class="sb" dy="6.5">7</tspan><tspan dy="-6.5" class="z">​</tspan></text>
<text class="hh" transform="translate(1943.43,766.20) scale(1.1665,1)"><tspan class="mi">h</tspan><tspan class="sbh" dy="7.7">0</tspan></text>
<text class="hh" style="fill:#4eab60;stroke:#4eab60" transform="translate(2095.76,865.80) scale(1.2631,1)"><tspan class="mi">h</tspan><tspan class="sbi" dy="7.3">r</tspan></text>
<text class="dots" style="fill:#2f6ebb;stroke:#2f6ebb" transform="translate(1951.66,1154.60) scale(0.9712,1)">...</text>
<text class="tt" transform="translate(1709.79,707.50) scale(0.9942,1)">VLM-Guided Backtracking</text>
<text class="lb" transform="translate(1707.29,766.30) scale(1.0679,1)">unstack green red</text>
<text class="ml" transform="translate(1749.26,800.00) scale(1.1157,1)"><tspan class="mi">p</tspan><tspan class="sb" dy="6.5">1</tspan><tspan dy="-6.5" class="z">​</tspan><tspan class="sp"> </tspan><tspan class="mi">q</tspan><tspan class="sb" dy="6.5">0</tspan><tspan dy="-6.5" class="z">​</tspan><tspan class="sp"> </tspan><tspan class="mi">q</tspan><tspan class="sb" dy="6.5">1</tspan><tspan dy="-6.5" class="z">​</tspan><tspan class="sp"> </tspan><tspan class="mi">ξ</tspan><tspan class="sb" dy="6.5">1</tspan><tspan dy="-6.5" class="z">​</tspan></text>
<text class="lb" transform="translate(2014.76,766.30) scale(1.0463,1)">unstack yellow blue</text>
<text class="ml" transform="translate(2071.70,800.00) scale(1.1093,1)"><tspan class="mi">p</tspan><tspan class="sb" dy="6.5">2</tspan><tspan dy="-6.5" class="z">​</tspan><tspan class="sp"> </tspan><tspan class="mi">q</tspan><tspan class="sb" dy="6.5">0</tspan><tspan dy="-6.5" class="z">​</tspan><tspan class="sp"> </tspan><tspan class="mi">q</tspan><tspan class="sb" dy="6.5">2</tspan><tspan dy="-6.5" class="z">​</tspan><tspan class="sp"> </tspan><tspan class="mi">ξ</tspan><tspan class="sb" dy="6.5">2</tspan><tspan dy="-6.5" class="z">​</tspan></text>
<text class="lb" transform="translate(1617.33,888.00) scale(1.0790,1)">putdown green</text>
<text class="ml" transform="translate(1647.25,921.50) scale(1.1028,1)"><tspan class="mi">p</tspan><tspan class="sb" dy="6.5">3</tspan><tspan dy="-6.5" class="z">​</tspan><tspan class="sp"> </tspan><tspan class="mi">q</tspan><tspan class="sb" dy="6.5">1</tspan><tspan dy="-6.5" class="z">​</tspan><tspan class="sp"> </tspan><tspan class="mi">q</tspan><tspan class="sb" dy="6.5">3</tspan><tspan dy="-6.5" class="z">​</tspan><tspan class="sp"> </tspan><tspan class="mi">ξ</tspan><tspan class="sb" dy="6.5">3</tspan><tspan dy="-6.5" class="z">​</tspan></text>
<text class="lb" transform="translate(1607.34,966.50) scale(1.0545,1)">pickup red</text>
<text class="ml" transform="translate(1609.69,999.50) scale(1.1095,1)"><tspan class="mi">p</tspan><tspan class="sb" dy="6.5">4</tspan><tspan dy="-6.5" class="z">​</tspan><tspan class="sp"> </tspan><tspan class="mi">q</tspan><tspan class="sb" dy="6.5">3</tspan><tspan dy="-6.5" class="z">​</tspan><tspan class="sp"> </tspan><tspan class="mi">q</tspan><tspan class="sb" dy="6.5">4</tspan><tspan dy="-6.5" class="z">​</tspan><tspan class="sp"> </tspan><tspan class="mi">ξ</tspan><tspan class="sb" dy="6.5">4</tspan><tspan dy="-6.5" class="z">​</tspan></text>
<text class="lb" transform="translate(1842.76,966.80) scale(1.0463,1)">unstack yellow blue</text>
<text class="ml" transform="translate(1899.70,999.50) scale(1.1044,1)"><tspan class="mi">p</tspan><tspan class="sb" dy="6.5">5</tspan><tspan dy="-6.5" class="z">​</tspan><tspan class="sp"> </tspan><tspan class="mi">q</tspan><tspan class="sb" dy="6.5">3</tspan><tspan dy="-6.5" class="z">​</tspan><tspan class="sp"> </tspan><tspan class="mi">q</tspan><tspan class="sb" dy="6.5">5</tspan><tspan dy="-6.5" class="z">​</tspan><tspan class="sp"> </tspan><tspan class="mi">ξ</tspan><tspan class="sb" dy="6.5">5</tspan><tspan dy="-6.5" class="z">​</tspan></text>
<text class="lb" style="fill:#e83223;stroke:#e83223" transform="translate(1641.81,1103.00) scale(1.0448,1)">putdown yellow</text>
<text class="ml" style="fill:#e83223;stroke:#e83223" transform="translate(1674.56,1135.50) scale(1.1261,1)"><tspan class="mr">p</tspan><tspan class="sb" dy="6.5">6</tspan><tspan dy="-6.5" class="z">​</tspan><tspan class="sp"> </tspan><tspan class="mi">q</tspan><tspan class="sb" dy="6.5">5</tspan><tspan dy="-6.5" class="z">​</tspan><tspan class="sp"> </tspan><tspan class="mi">q</tspan><tspan class="sb" dy="6.5">6</tspan><tspan dy="-6.5" class="z">​</tspan><tspan class="sp"> </tspan><tspan class="mi">ξ</tspan><tspan class="sb" dy="6.5">6</tspan><tspan dy="-6.5" class="z">​</tspan></text>
<text class="ex" style="fill:#4eab60;stroke:#4eab60" transform="translate(2103.91,1021.30) scale(1.1392,1)">Backtrack</text>
<text class="tt" transform="translate(1061.63,1287.30) scale(1.0683,1)">Notations</text>
<text class="cap" transform="translate(164.71,1346.00) scale(1.0521,1)">Discrete State</text>
<text class="nm" transform="translate(220.67,1384.70) scale(0.9074,1)"><tspan class="mi">s</tspan> ∈ <tspan class="cal"> 𝒮</tspan></text>
<text class="cap" transform="translate(502.41,1346.00) scale(1.0581,1)">Hybrid State</text>
<text class="nm" transform="translate(479.73,1384.70) scale(1.0707,1)"><tspan class="mi">h</tspan> = (<tspan class="mi">s</tspan>, <tspan class="mi">x</tspan>)  ∈ <tspan class="cal"> ℋ</tspan></text>
<text class="cap" style="fill:#4eab60;stroke:#4eab60" transform="translate(826.09,1345.00) scale(0.9791,1)">VLM-Guided</text>
<text class="cap" style="fill:#4eab60;stroke:#4eab60" transform="translate(848.82,1385.30) scale(1.0591,1)">Selection</text>
<text class="cap" style="fill:#e83223;stroke:#e83223" transform="translate(1140.63,1367.20) scale(1.0446,1)">Failed</text>
<text class="cap" transform="translate(1271.46,1366.00) scale(1.0762,1)"><tspan class="mi">p</tspan>: grasp/placement pose, <tspan class="mi">q</tspan>: robot configuration, <tspan class="mi">ξ</tspan>: motion trajectory</text>
</svg></body></html>
